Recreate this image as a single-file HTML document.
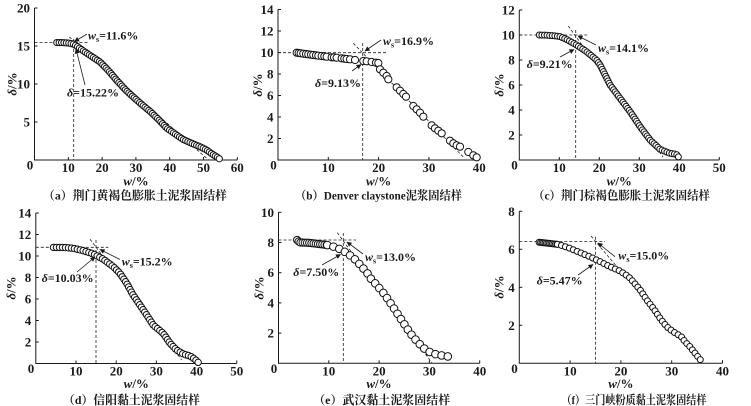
<!DOCTYPE html>
<html><head><meta charset="utf-8">
<style>
html,body{margin:0;padding:0;background:#fff;}
svg{display:block;}
.t{font-family:"Liberation Serif",serif;font-size:13px;font-weight:bold;fill:#1a1a1a;}
.a{font-family:"Liberation Serif",serif;font-size:12px;font-weight:bold;fill:#1a1a1a;}
.c{font-family:"Liberation Serif","Noto Serif CJK SC",serif;font-size:12px;font-weight:bold;fill:#1a1a1a;}
</style></head><body>
<svg id="s" width="751" height="406" viewBox="0 0 751 406" xmlns="http://www.w3.org/2000/svg">
<defs>
<marker id="ar" viewBox="0 0 10 10" refX="9" refY="5" markerWidth="6" markerHeight="5" orient="auto" markerUnits="userSpaceOnUse">
<path d="M0,0L10,5L0,10z" fill="#1a1a1a"/>
</marker>
</defs>
<g id="ax" stroke="#1a1a1a" stroke-width="1" fill="none"></g>
<g id="dl" stroke="#222" stroke-width="0.8" fill="none" stroke-dasharray="3 2">
<!-- a -->
<path d="M34.5,42.5H88"/><path d="M73.7,39V160"/><path d="M69.3,36.9L208.6,160"/>
<!-- b -->
<path d="M278,52.7H386.7"/><path d="M362.7,43V160"/><path d="M353.3,43.3L463.3,157"/>
<!-- c -->
<path d="M519.3,35H588"/><path d="M575.7,30V160"/><path d="M568.3,26L663,157"/>
<!-- d -->
<path d="M35.8,247.3H108.3"/><path d="M96,240V363.5"/><path d="M90,239.3L181.7,360"/>
<!-- e -->
<path d="M278.5,240H356"/><path d="M343.3,233V363.3"/><path d="M337.3,232.7L432,363"/>
<!-- f -->
<path d="M519.3,241.5H605"/><path d="M595.5,236.7V363.3"/><path d="M591,236L618,268"/>
</g>
<g id="pts" fill="#fff" stroke="#111" stroke-width="1"></g>
<g stroke="#1a1a1a" stroke-width="0.8" fill="none" marker-end="url(#ar)">
<path d="M87,34L74.5,41.5"/><path d="M85,85L76,49"/>
<path d="M381,40L365,51"/><path d="M352,71L361,64.5"/>
<path d="M596,45L578,36"/><path d="M560,57L574,49.5"/>
<path d="M120,259.5L100,249.5"/><path d="M77,272L95,257"/>
<path d="M363,254L347,242"/><path d="M322,265L340.5,254.5"/>
<path d="M615,256.7L598,243"/><path d="M578,275L593,264.5"/>
</g>

<!-- Panel a labels -->
<g class="t" text-anchor="end">
<text x="30" y="126.5">5</text><text x="30" y="88.5">10</text><text x="30" y="50.5">15</text><text x="30" y="12.5">20</text>
</g>
<g class="t" text-anchor="middle">
<text x="30" y="169.5">0</text>
<text x="68.3" y="172">10</text><text x="102.1" y="172">20</text><text x="135.9" y="172">30</text><text x="169.7" y="172">40</text><text x="203.5" y="172">50</text><text x="237.3" y="172">60</text>
<text x="136" y="185.5"><tspan font-style="italic">w</tspan>/%</text>
<text transform="translate(12,84) rotate(-90)" y="4.5"><tspan font-style="italic">δ</tspan>/%</text>
</g>
<text class="a" x="88" y="39.5"><tspan font-style="italic">w</tspan><tspan font-size="8" dy="2.5">s</tspan><tspan dy="-2.5">=11.6%</tspan></text>
<text class="a" x="67" y="96.5"><tspan font-style="italic">δ</tspan>=15.22%</text>
<text class="c" x="135" y="199.5" text-anchor="middle" textLength="184" lengthAdjust="spacingAndGlyphs">（a）荆门黄褐色膨胀土泥浆固结样</text>

<!-- Panel b labels -->
<g class="t" text-anchor="end">
<text x="273.5" y="143">2</text><text x="273.5" y="121.5">4</text><text x="273.5" y="100">6</text><text x="273.5" y="78.5">8</text><text x="273.5" y="57">10</text><text x="273.5" y="35.5">12</text><text x="273.5" y="14">14</text>
</g>
<g class="t" text-anchor="middle">
<text x="273.5" y="169.5">0</text>
<text x="328.3" y="172">10</text><text x="378.6" y="172">20</text><text x="428.9" y="172">30</text><text x="479.2" y="172">40</text>
<text x="378.6" y="185.5"><tspan font-style="italic">w</tspan>/%</text>
<text transform="translate(257.5,85) rotate(-90)" y="4.5"><tspan font-style="italic">δ</tspan>/%</text>
</g>
<text class="a" x="383" y="45"><tspan font-style="italic">w</tspan><tspan font-size="8" dy="2.5">s</tspan><tspan dy="-2.5">=16.9%</tspan></text>
<text class="a" x="315" y="87"><tspan font-style="italic">δ</tspan>=9.13%</text>
<text class="c" x="378.5" y="199.5" text-anchor="middle" textLength="167" lengthAdjust="spacingAndGlyphs">（b）Denver claystone泥浆固结样</text>

<!-- Panel c labels -->
<g class="t" text-anchor="end">
<text x="514.8" y="139.5">2</text><text x="514.8" y="114.5">4</text><text x="514.8" y="89.5">6</text><text x="514.8" y="64.5">8</text><text x="514.8" y="39.5">10</text><text x="514.8" y="14.5">12</text>
</g>
<g class="t" text-anchor="middle">
<text x="514.5" y="169.5">0</text>
<text x="559.3" y="172">10</text><text x="599.3" y="172">20</text><text x="639.3" y="172">30</text><text x="679.3" y="172">40</text><text x="719.3" y="172">50</text>
<text x="619.3" y="185.5"><tspan font-style="italic">w</tspan>/%</text>
<text transform="translate(499,85) rotate(-90)" y="4.5"><tspan font-style="italic">δ</tspan>/%</text>
</g>
<text class="a" x="598" y="52"><tspan font-style="italic">w</tspan><tspan font-size="8" dy="2.5">s</tspan><tspan dy="-2.5">=14.1%</tspan></text>
<text class="a" x="526.7" y="67.8"><tspan font-style="italic">δ</tspan>=9.21%</text>
<text class="c" x="621.5" y="199.5" text-anchor="middle" textLength="177" lengthAdjust="spacingAndGlyphs">（c）荆门棕褐色膨胀土泥浆固结样</text>

<!-- Panel d labels -->
<g class="t" text-anchor="end">
<text x="31.3" y="346.5">2</text><text x="31.3" y="325">4</text><text x="31.3" y="303.5">6</text><text x="31.3" y="282">8</text><text x="31.3" y="260.5">10</text><text x="31.3" y="239">12</text><text x="31.3" y="217.5">14</text>
</g>
<g class="t" text-anchor="middle">
<text x="31" y="373">0</text>
<text x="76" y="375.5">10</text><text x="116.2" y="375.5">20</text><text x="156.4" y="375.5">30</text><text x="196.6" y="375.5">40</text><text x="236.8" y="375.5">50</text>
<text x="136.3" y="388"><tspan font-style="italic">w</tspan>/%</text>
<text transform="translate(11,288) rotate(-90)" y="4.5"><tspan font-style="italic">δ</tspan>/%</text>
</g>
<text class="a" x="121.7" y="265.5"><tspan font-style="italic">w</tspan><tspan font-size="8" dy="2.5">s</tspan><tspan dy="-2.5">=15.2%</tspan></text>
<text class="a" x="41.7" y="281.8"><tspan font-style="italic">δ</tspan>=10.03%</text>
<text class="c" x="131.5" y="404" text-anchor="middle" textLength="137" lengthAdjust="spacingAndGlyphs">（d）信阳黏土泥浆固结样</text>

<!-- Panel e labels -->
<g class="t" text-anchor="end">
<text x="274" y="337.6">2</text><text x="274" y="307.4">4</text><text x="274" y="277.2">6</text><text x="274" y="247">8</text><text x="274" y="216.8">10</text>
</g>
<g class="t" text-anchor="middle">
<text x="274" y="373">0</text>
<text x="328.8" y="375.5">10</text><text x="379.1" y="375.5">20</text><text x="429.4" y="375.5">30</text><text x="479.7" y="375.5">40</text>
<text x="379" y="388"><tspan font-style="italic">w</tspan>/%</text>
<text transform="translate(259,288) rotate(-90)" y="4.5"><tspan font-style="italic">δ</tspan>/%</text>
</g>
<text class="a" x="365" y="261"><tspan font-style="italic">w</tspan><tspan font-size="8" dy="2.5">s</tspan><tspan dy="-2.5">=13.0%</tspan></text>
<text class="a" x="293.3" y="276"><tspan font-style="italic">δ</tspan>=7.50%</text>
<text class="c" x="381.7" y="404" text-anchor="middle" textLength="137" lengthAdjust="spacingAndGlyphs">（e）武汉黏土泥浆固结样</text>

<!-- Panel f labels -->
<g class="t" text-anchor="end">
<text x="514.8" y="329.8">2</text><text x="514.8" y="291.8">4</text><text x="514.8" y="253.8">6</text><text x="514.8" y="215.8">8</text>
</g>
<g class="t" text-anchor="middle">
<text x="514.5" y="373">0</text>
<text x="570.1" y="375.5">10</text><text x="620.9" y="375.5">20</text><text x="671.7" y="375.5">30</text><text x="722.5" y="375.5">40</text>
<text x="620.9" y="388"><tspan font-style="italic">w</tspan>/%</text>
<text transform="translate(499,287) rotate(-90)" y="4.5"><tspan font-style="italic">δ</tspan>/%</text>
</g>
<text class="a" x="618.3" y="259.5"><tspan font-style="italic">w</tspan><tspan font-size="8" dy="2.5">s</tspan><tspan dy="-2.5">=15.0%</tspan></text>
<text class="a" x="536.7" y="284.5"><tspan font-style="italic">δ</tspan>=5.47%</text>
<text class="c" x="634" y="404" text-anchor="middle" textLength="145" lengthAdjust="spacingAndGlyphs">（f）三门峡粉质黏土泥浆固结样</text>
</svg>
<script>
(function(){
var NS="http://www.w3.org/2000/svg";
var ax=document.getElementById('ax'), pts=document.getElementById('pts');
function el(par,tag,at){var e=document.createElementNS(NS,tag);for(var k in at)e.setAttribute(k,at[k]);par.appendChild(e);return e;}
var P=[
 {ox:34.5,oy:160,sx:3.38,sy:7.6,xmax:60,xs:10,ymax:20,ys:5},
 {ox:278,oy:160,sx:5.03,sy:10.75,xmax:40,xs:10,ymax:14,ys:2},
 {ox:519.3,oy:160,sx:4.0,sy:12.5,xmax:50,xs:10,ymax:12,ys:2},
 {ox:35.8,oy:363.5,sx:4.02,sy:10.75,xmax:50,xs:10,ymax:14,ys:2},
 {ox:278.5,oy:363.3,sx:5.03,sy:15.1,xmax:40,xs:10,ymax:10,ys:2},
 {ox:519.3,oy:363.3,sx:5.08,sy:19.0,xmax:40,xs:10,ymax:8,ys:2}
];
P.forEach(function(p){
 var top=p.oy-p.ymax*p.sy, right=p.ox+p.xmax*p.sx;
 el(ax,'path',{d:'M'+p.ox+','+top+'V'+p.oy+'H'+right});
 for(var v=p.ys;v<=p.ymax+1e-6;v+=p.ys){var y=p.oy-v*p.sy;el(ax,'path',{d:'M'+p.ox+','+y+'h3'});}
 for(var v=p.xs;v<=p.xmax+1e-6;v+=p.xs){var x=p.ox+v*p.sx;el(ax,'path',{d:'M'+x+','+p.oy+'v-3'});}
});
function px(p,a){return a.map(function(q){return [p.ox+q[0]*p.sx,p.oy-q[1]*p.sy];});}
function sample(pp,sp){
 var out=[pp[0]],acc=0;
 for(var i=1;i<pp.length;i++){
  var x0=pp[i-1][0],y0=pp[i-1][1],x1=pp[i][0],y1=pp[i][1];
  var L=Math.hypot(x1-x0,y1-y0); if(L===0)continue;
  var t=sp-acc;
  while(t<=L){out.push([x0+(x1-x0)*t/L,y0+(y1-y0)*t/L]);t+=sp;}
  acc=L-(t-sp);
 }
 return out;
}
function draw(list,r){list.forEach(function(q){el(pts,'circle',{cx:q[0].toFixed(2),cy:q[1].toFixed(2),r:r});});}
// a
draw(sample(px(P[0],[[6.6,15.45],[8,15.45],[10,15.4],[11.5,15.25],[12.5,15.0],[14,14.5],[16,13.9],[19.4,12.9],[22,11.7],[24.3,10.5],[27,9.2],[29.2,8.3],[32,7.2],[34.2,6.4],[37,5.2],[39.1,4.2],[42,3.3],[44,2.7],[47,2.1],[49,1.75],[51,1.3],[52.5,0.8],[54,0.4],[55,0.05]]),2.4),3.1);
// b explicit
var bz=[[140,158],[146,159],[152,160],[160,161],[168,162],[175,163],[183,164],[190,165],[198,166],[205,167],[215,168],[223,169],[230,170],[245,172],[252,172],[260,173],[275,175],[283,176],[290,177],[300,178],[315,180],[340,183],[350,184],[365,186],[378,188],[385,189],[390,208],[400,218],[410,228],[415,238],[440,262],[450,272],[460,282],[468,290],[490,318],[500,328],[510,338],[520,350],[545,376],[555,385],[565,392],[575,400],[600,422],[610,430],[620,436],[630,440],[655,456],[670,466],[680,472]];
draw(bz.map(function(q){return [250+q[0]/3,q[1]/3];}),3.6);
// c
draw(sample(px(P[2],[[5,10],[7,9.98],[9,9.93],[10.2,9.87],[11.8,9.65],[14.3,9.2],[16.8,8.67],[19.3,8],[20.2,7.6],[22.7,6.0],[25.2,4.93],[27.7,3.87],[30.2,2.67],[32.7,1.6],[35.2,0.85],[37.7,0.53],[39.3,0.45],[40.1,0.1]]),2.6),3.0);
// d
draw(sample(px(P[3],[[4.4,10.8],[7,10.8],[9.3,10.72],[11.8,10.5],[14.3,10.2],[16.8,9.7],[19.3,9.0],[20.9,8.4],[22.6,7.46],[24.2,6.37],[25.9,5.44],[27.6,4.5],[29.2,3.58],[31.7,2.8],[33.4,1.88],[35,1.26],[36.7,0.88],[38.4,0.7],[39.6,0.39],[40.4,0.1]]),3.0),3.2);
// e
draw(sample(px(P[4],[[3.7,8.17],[4.2,8.0],[6,7.98],[8,7.9],[9.7,7.83]]),2.2),3.6);
draw(sample(px(P[4],[[9.7,7.83],[11,7.72],[12.3,7.55],[13.7,7.28],[15,6.95],[16.3,6.5],[17.6,6.0],[18.3,5.63],[19.5,5.19],[20.9,4.64],[22.3,3.97],[23.6,3.31],[24.9,2.65],[26.2,1.99],[27.6,1.43],[28.9,0.99],[30.5,0.66],[32.2,0.53],[33.9,0.44],[34.5,0.22]]),6.3),3.8);
// f
draw(sample(px(P[5],[[3.9,6.37],[6,6.31],[7.5,6.26]]),1.5),3.0);
draw(sample(px(P[5],[[7.5,6.26],[8,6.23],[10,6.05],[12,5.82],[13.9,5.61],[15.9,5.35],[17.9,5.08],[19.8,4.86],[21.5,4.56],[22.4,4.3],[23.8,3.86],[25.1,3.33],[26.4,2.89],[27.7,2.37],[29,1.93],[30.3,1.66],[31.9,1.4],[32.6,1.14],[33.6,0.87],[34.6,0.53],[35.4,0.26],[35.7,0.17]]),4.2),3.0);
})();
</script>
</body></html>
